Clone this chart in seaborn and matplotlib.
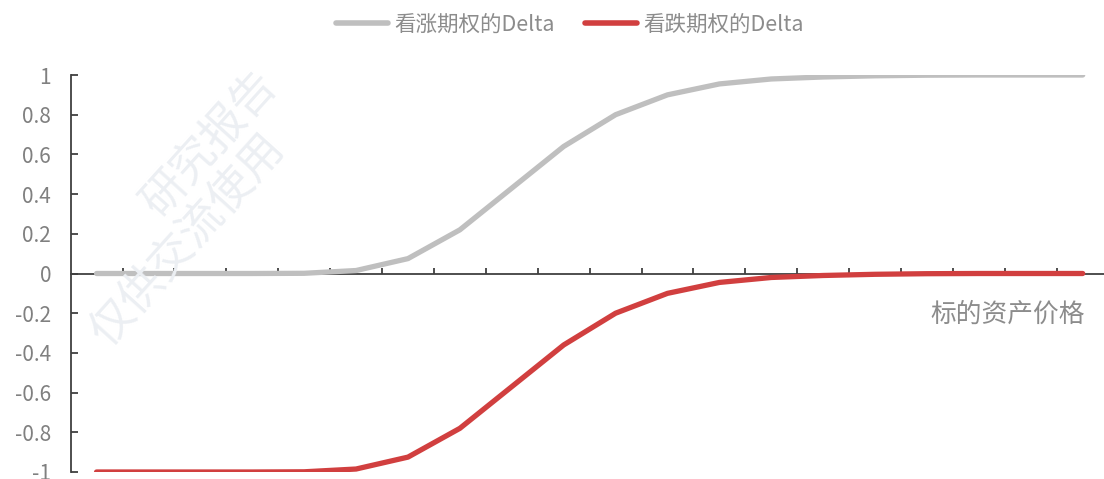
import numpy as np
import pandas as pd
import matplotlib.pyplot as plt
import matplotlib.transforms as mtransforms
import seaborn as sns

sns.set_theme(style='white')
plt.rcParams['font.family'] = ['Noto Sans CJK SC', 'DejaVu Sans']
plt.rcParams['axes.unicode_minus'] = False

# 20 price levels along a category axis
price_idx = list(range(20))
call_delta = [0, 0, 0, 0, 0.001, 0.015, 0.075, 0.22, 0.43, 0.64,
              0.80, 0.90, 0.955, 0.98, 0.99, 0.996, 0.999, 1.0, 1.0, 1.0]
put_delta = [-1.0, -1.0, -1.0, -1.0, -0.999, -0.985, -0.925, -0.78, -0.57, -0.36,
             -0.20, -0.10, -0.045, -0.02, -0.01, -0.004, -0.001, 0, 0, 0]
series_names = ['看涨期权的Delta', '看跌期权的Delta']
y_ticks = [1, 0.8, 0.6, 0.4, 0.2, 0, -0.2, -0.4, -0.6, -0.8, -1]
x_label = '标的资产价格'

df = pd.DataFrame({
    'idx': price_idx * 2,
    'delta': call_delta + put_delta,
    'series': [series_names[0]] * 20 + [series_names[1]] * 20,
})

fig = plt.figure(figsize=(11.04, 4.79), dpi=100)
ax = fig.add_axes([70.6 / 1104, 1 - 472 / 479, 1 - 70.6 / 1104, (472 - 75) / 479])

# faint watermark
fig.text(0.19, 0.70, '研究报告', rotation=48, fontsize=32, color='#eceff3',
         fontweight='light', ha='center', va='center', zorder=0)
fig.text(0.17, 0.50, '仅供交流使用', rotation=48, fontsize=32, color='#eceff3',
         fontweight='light', ha='center', va='center', zorder=0)

palette = {series_names[0]: '#bfbfbf', series_names[1]: '#d13f3f'}
sns.lineplot(data=df, x='idx', y='delta', hue='series', palette=palette,
             linewidth=3.8, ax=ax, legend=True, zorder=3)
for ln in ax.get_lines():
    ln.set_solid_capstyle('round')
    ln.set_solid_joinstyle('round')

ax.patch.set_alpha(0)
ax.set_xlim(-0.5, 19.41)
ax.set_ylim(-1, 1)
ax.set_yticks(y_ticks)
ax.set_yticklabels([f'{v:g}' for v in y_ticks])
ax.set_xticks([i + 0.5 for i in range(19)])
ax.set_xticklabels([])
ax.set_xlabel('')
ax.set_ylabel('')

for s in ['top', 'right']:
    ax.spines[s].set_visible(False)
ax.spines['bottom'].set_position(('data', 0))
for s in ['left', 'bottom']:
    ax.spines[s].set_color('#404040')
    ax.spines[s].set_linewidth(1.3)
    ax.spines[s].set_zorder(2)

ax.tick_params(axis='y', direction='in', length=5, width=1.3, color='#404040',
               labelsize=15, labelcolor='#808080', pad=14, left=True)
ax.tick_params(axis='x', direction='in', length=4.5, width=1.3, color='#404040',
               bottom=True)

# axis title sits under the x axis at the right end
label_tf = mtransforms.blended_transform_factory(fig.transFigure, ax.transData)
ax.text(1085 / 1104, -0.21, x_label, transform=label_tf,
        ha='right', va='center', fontsize=18.5, color='#8c8c8c')

leg = ax.legend(loc='center', bbox_to_anchor=(570 / 1104, 1 - 25 / 479),
                bbox_transform=fig.transFigure, ncol=2, frameon=False,
                fontsize=15.5, handlelength=2.4, handletextpad=0.3,
                columnspacing=1.4)
for t in leg.get_texts():
    t.set_color('#8c8c8c')
for h in leg.get_lines():
    h.set_linewidth(4)
    h.set_solid_capstyle('round')

fig.savefig('out.png', dpi=100)
